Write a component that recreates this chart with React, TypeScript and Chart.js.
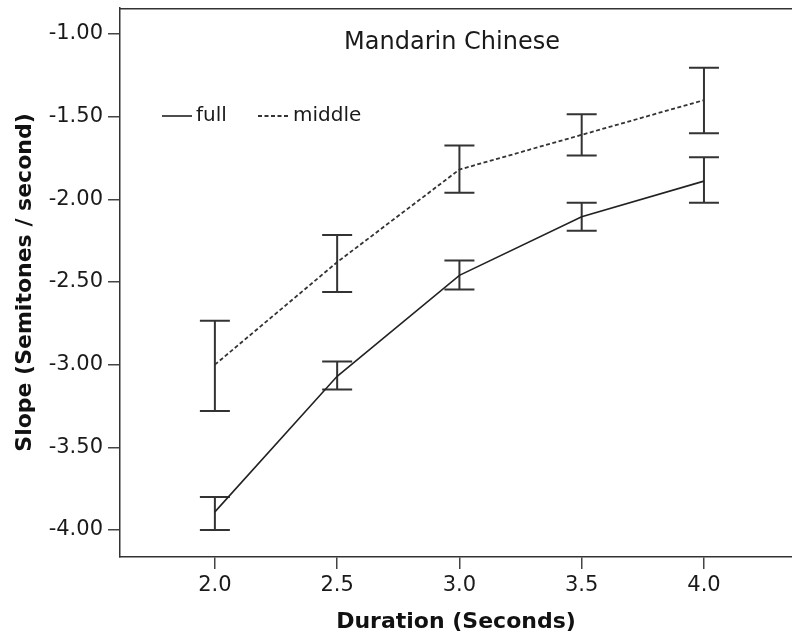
import React, { useEffect, useRef } from "react";
import { Chart, registerables } from "chart.js";

Chart.register(...registerables);

// ---- data ----
const durations = [2.0, 2.5, 3.0, 3.5, 4.0];
const fullMean = [-3.89, -3.07, -2.46, -2.105, -1.89];
const fullLow = [-4.0, -3.15, -2.545, -2.19, -2.02];
const fullHigh = [-3.8, -2.98, -2.37, -2.02, -1.745];
const middleMean = [-3.0, -2.38, -1.82, -1.61, -1.4];
const middleLow = [-3.28, -2.56, -1.96, -1.735, -1.6];
const middleHigh = [-2.735, -2.215, -1.675, -1.485, -1.205];
const yTicks = [-4.0, -3.5, -3.0, -2.5, -2.0, -1.5, -1.0];
const xTicks = [2.0, 2.5, 3.0, 3.5, 4.0];
const seriesNames = ["full", "middle"];
const chartTitle = "Mandarin Chinese";
const xTitle = "Duration (Seconds)";
const yTitle = "Slope (Semitones / second)";

const FONT = "'DejaVu Sans', sans-serif";
const INK = "#1a1a1a";

const errorBarPlugin = {
  id: "errorBars",
  beforeDatasetsDraw(chart: any) {
    const { ctx } = chart;
    const xs = chart.scales.x;
    const ys = chart.scales.y;
    const sets = [
      { low: fullLow, high: fullHigh },
      { low: middleLow, high: middleHigh },
    ];
    ctx.save();
    ctx.strokeStyle = "#333333";
    ctx.lineWidth = 2;
    ctx.lineCap = "butt";
    const cap = 15;
    sets.forEach((s) => {
      durations.forEach((d, i) => {
        const x = xs.getPixelForValue(d);
        const yl = ys.getPixelForValue(s.low[i]);
        const yh = ys.getPixelForValue(s.high[i]);
        ctx.beginPath();
        ctx.moveTo(x, yl);
        ctx.lineTo(x, yh);
        ctx.moveTo(x - cap, yl);
        ctx.lineTo(x + cap, yl);
        ctx.moveTo(x - cap, yh);
        ctx.lineTo(x + cap, yh);
        ctx.stroke();
      });
    });
    ctx.restore();
  },
};

const decorPlugin = {
  id: "decor",
  afterDraw(chart: any) {
    const { ctx, chartArea } = chart;
    ctx.save();
    // top frame line
    ctx.strokeStyle = "#333333";
    ctx.lineWidth = 1.5;
    ctx.beginPath();
    ctx.moveTo(chartArea.left, chartArea.top + 0.75);
    ctx.lineTo(chartArea.right, chartArea.top + 0.75);
    ctx.stroke();

    // title inside plot
    ctx.fillStyle = INK;
    ctx.font = `24px ${FONT}`;
    ctx.textAlign = "center";
    ctx.textBaseline = "middle";
    ctx.fillText(chartTitle, 452, 43);

    // legend
    ctx.font = `20px ${FONT}`;
    ctx.textAlign = "left";
    const ly = 116;
    ctx.strokeStyle = "#222222";
    ctx.lineWidth = 1.6;
    ctx.beginPath();
    ctx.moveTo(162, ly);
    ctx.lineTo(192, ly);
    ctx.stroke();
    ctx.fillText(seriesNames[0], 196, ly);
    ctx.strokeStyle = "#333333";
    ctx.lineWidth = 1.8;
    ctx.setLineDash([4, 2.5]);
    ctx.beginPath();
    ctx.moveTo(258, ly);
    ctx.lineTo(290, ly);
    ctx.stroke();
    ctx.setLineDash([]);
    ctx.fillText(seriesNames[1], 293, ly);
    ctx.restore();
  },
};

export default function App() {
  const ref = useRef<HTMLCanvasElement | null>(null);

  useEffect(() => {
    if (!ref.current) return;
    const chart = new Chart(ref.current, {
      type: "line",
      data: {
        datasets: [
          {
            label: seriesNames[0],
            data: durations.map((d, i) => ({ x: d, y: fullMean[i] })),
            borderColor: "#222222",
            borderWidth: 1.6,
            pointRadius: 0,
            fill: false,
            tension: 0,
          },
          {
            label: seriesNames[1],
            data: durations.map((d, i) => ({ x: d, y: middleMean[i] })),
            borderColor: "#333333",
            borderWidth: 1.8,
            borderDash: [4, 2.5],
            pointRadius: 0,
            fill: false,
            tension: 0,
          },
        ],
      },
      options: {
        animation: false,
        responsive: false,
        layout: { padding: { top: 8, left: 0, right: 0, bottom: 0 } },
        plugins: {
          legend: { display: false },
          tooltip: { enabled: false },
          title: { display: false },
        },
        scales: {
          x: {
            type: "linear",
            min: 1.612,
            max: 4.36,
            afterBuildTicks: (s: any) => {
              s.ticks = xTicks.map((v) => ({ value: v }));
            },
            afterFit: (s: any) => {
              s.height = 78;
              s.paddingLeft = 0;
              s.paddingRight = 0;
            },
            ticks: {
              color: INK,
              font: { family: FONT, size: 21 },
              padding: 4,
              maxRotation: 0,
              callback: (v: any) => Number(v).toFixed(1),
            },
            grid: {
              drawOnChartArea: false,
              drawTicks: true,
              tickLength: 12,
              color: "#444444",
              lineWidth: 1.5,
            },
            border: { display: true, color: "#333333", width: 1.5 },
            title: {
              display: true,
              text: xTitle,
              color: "#111111",
              font: { family: FONT, size: 22, weight: "bold" },
              padding: { top: 0, bottom: 0 },
            },
          },
          y: {
            type: "linear",
            min: -4.163,
            max: -0.843,
            afterBuildTicks: (s: any) => {
              s.ticks = yTicks.map((v) => ({ value: v }));
            },
            afterFit: (s: any) => {
              s.width = 120;
              s.paddingTop = 0;
              s.paddingBottom = 0;
            },
            ticks: {
              color: INK,
              font: { family: FONT, size: 21 },
              padding: 5,
              callback: (v: any) => Number(v).toFixed(2),
            },
            grid: {
              drawOnChartArea: false,
              drawTicks: true,
              tickLength: 12,
              color: "#444444",
              lineWidth: 1.5,
            },
            border: { display: true, color: "#333333", width: 1.5 },
            title: {
              display: true,
              text: yTitle,
              color: "#111111",
              font: { family: FONT, size: 22, weight: "bold" },
              padding: { top: 12, bottom: 0 },
            },
          },
        },
      },
      plugins: [errorBarPlugin, decorPlugin],
    } as any);
    return () => chart.destroy();
  }, []);

  return (
    <div style={{ position: "fixed", left: 0, top: 0, width: 792, height: 635, background: "#ffffff" }}>
      <canvas ref={ref} width={792} height={635} style={{ display: "block" }} />
    </div>
  );
}
